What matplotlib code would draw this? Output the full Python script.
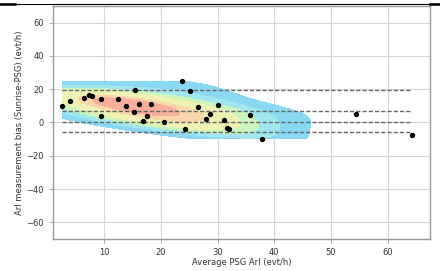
import numpy as np
import matplotlib
matplotlib.use("Agg")
import matplotlib.pyplot as plt
import seaborn as sns
from matplotlib.colors import ListedColormap
from matplotlib.lines import Line2D

# ----------------------------
# Data
# ----------------------------
avg_psg = [2.6, 4.0, 6.5, 7.4, 7.9, 9.4, 9.4, 12.5, 13.8, 15.4, 16.2, 15.2,
           18.3, 17.5, 16.9, 20.6, 23.8, 25.1, 26.5, 28.6, 30.1, 27.9, 31.2,
           24.3, 31.6, 32.0, 35.7, 37.9, 54.4, 64.3]
bias = [9.8, 13.2, 14.8, 16.8, 15.8, 14.4, 3.6, 14.4, 10.0, 19.8, 11.2, 6.4,
        11.0, 3.6, 0.8, 0.4, 24.8, 19.2, 9.2, 5.4, 10.8, 1.8, 1.6,
        -3.8, -3.6, -4.0, 4.8, -9.8, 5.4, -7.6]

mean_bias = 7.0
upper_loa = 19.8
lower_loa = -5.7
zero_line = 0.0

x_ticks = [10, 20, 30, 40, 50, 60]
y_ticks = [-60, -40, -20, 0, 20, 40, 60]

# washed-out rainbow bands, outer -> inner
band_colors = ["#8ad8f3", "#9fe6ee", "#aeefd8", "#ccf4bd", "#eef2b2",
               "#fbd6ab", "#f9ae9c"]

# ----------------------------
# Figure
# ----------------------------
fig = plt.figure(figsize=(4.4, 2.71), dpi=100)
ax = fig.add_axes([0.1205, 0.118, 0.8565, 0.86])

cmap = ListedColormap(band_colors)
sns.kdeplot(x=avg_psg, y=bias, fill=True, cmap=cmap, cut=0,
            levels=8, thresh=0.1, bw_adjust=1.2, gridsize=300, ax=ax, zorder=1)

ax.scatter(avg_psg, bias, s=8, color="black", zorder=4)

x0, x1 = min(avg_psg), max(avg_psg)
for yv in [upper_loa, mean_bias, zero_line, lower_loa]:
    ax.hlines(yv, x0, x1, colors="#666666", linestyles=(0, (3, 1.5)),
              linewidth=1.0, zorder=3)

ax.set_xlim(1, 67.4)
ax.set_ylim(-70, 70)
ax.set_xticks(x_ticks)
ax.set_yticks(y_ticks)
ax.grid(True, color="#d5d5d5", linewidth=0.8, zorder=0)
ax.set_axisbelow(True)
for s in ax.spines.values():
    s.set_color("#999999")
    s.set_linewidth(1.0)
ax.tick_params(labelsize=6, colors="#999999", labelcolor="#333333",
               length=3, width=0.6)

ax.set_xlabel("Average PSG ArI (evt/h)", fontsize=6, color="#333333", labelpad=1)
ax.set_ylabel("ArI measurement bias (Sunrise-PSG) (evt/h)", fontsize=6,
              color="#333333", labelpad=2)

# thin black rule across the top of the picture
fig.add_artist(Line2D([0, 1], [1 - 3.5 / 271, 1 - 3.5 / 271],
                      transform=fig.transFigure, color="black", linewidth=0.8))
fig.add_artist(Line2D([0, 15 / 440], [1 - 4 / 271, 1 - 4 / 271],
                      transform=fig.transFigure, color="black", linewidth=1.8))
fig.add_artist(Line2D([430 / 440, 1], [1 - 4 / 271, 1 - 4 / 271],
                      transform=fig.transFigure, color="black", linewidth=1.8))

fig.savefig("out.png", dpi=100)
